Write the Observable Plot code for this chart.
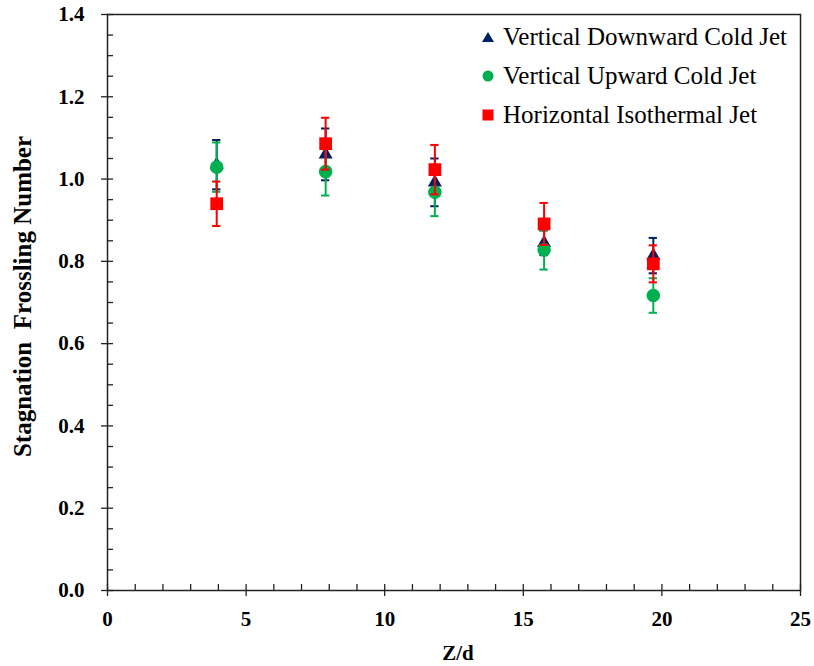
<!DOCTYPE html>
<html>
<head>
<meta charset="utf-8">
<script src="https://cdn.jsdelivr.net/npm/d3@7"></script>
<script src="https://cdn.jsdelivr.net/npm/@observablehq/plot@0.6"></script>
<style>
  body { margin: 0; background: #fff; }
  #wrap { position: relative; width: 814px; height: 666px; }
  #wrap svg text { font-family: "Liberation Serif", "Times New Roman", serif !important; }
  #legend { position: absolute; left: 480px; top: 17px; font-family: "Liberation Serif", "Times New Roman", serif; font-size: 25px; color: #000; }
  #legend .row { display: flex; align-items: center; height: 39px; white-space: nowrap; }
  #legend svg { width: 16px; height: 16px; margin-right: 7px; flex: none; }
  svg text.ytitle, svg .ytitle text { white-space: pre; }
</style>
</head>
<body>
<div id="wrap"></div>
<script>
// ---- data ----
const zd = [3.94, 7.87, 11.81, 15.75, 19.69];

const seriesNames = ["Vertical Downward Cold Jet", "Vertical Upward Cold Jet", "Horizontal Isothermal Jet"];
const downwardY   = [1.035, 1.060, 0.992, 0.845, 0.814];
const downwardErr = [0.060, 0.063, 0.058, 0.030, 0.043];
const upwardY     = [1.029, 1.018, 0.968, 0.828, 0.717];
const upwardErr   = [0.060, 0.058, 0.058, 0.048, 0.042];
const horizY      = [0.940, 1.086, 1.023, 0.891, 0.794];
const horizErr    = [0.054, 0.063, 0.060, 0.051, 0.045];

const xTicks = [0, 5, 10, 15, 20, 25];
const yTicks = [0.0, 0.2, 0.4, 0.6, 0.8, 1.0, 1.2, 1.4];
const xMinorStep = 1;
const yMinorStep = 0.05;

const colors  = ["#002060", "#00B050", "#FF0000"];
const symbols = ["triangle", "circle", "square"];
const radii   = [5.2, 6.8, 7.2];

const ys = [downwardY, upwardY, horizY];
const errs = [downwardErr, upwardErr, horizErr];

const rows = [];
seriesNames.forEach((s, i) => {
  zd.forEach((x, j) => rows.push({series: s, si: i, x, y: ys[i][j], e: errs[i][j]}));
});

const capHalf = 0.15; // half cap width in Z/d units
const xMinor = d3.range(0, 25 + 1e-9, xMinorStep);
const yMinor = d3.range(0, 1.4 + 1e-9, yMinorStep).map(v => +v.toFixed(2));

const font = "Liberation Serif";
const marks = [
  Plot.frame({stroke: "#222", strokeWidth: 1.5}),
  // minor (inward) ticks
  Plot.axisX(xMinor, {tickSize: -6, tickFormat: () => "", label: null, stroke: "#222", strokeWidth: 1.3}),
  Plot.axisY(yMinor, {tickSize: -6, tickFormat: () => "", label: null, stroke: "#222", strokeWidth: 1.3}),
  // major ticks with labels
  Plot.axisX(xTicks, {tickSize: 6, tickPadding: 15, tickFormat: d3.format("d"), label: null,
    fontSize: 21, fontWeight: "bold", fontFamily: font, fill: "#000", stroke: "#222", strokeWidth: 1.3}),
  Plot.axisY(yTicks, {tickSize: 6, tickPadding: 17, tickFormat: d3.format(".1f"), label: null,
    fontSize: 21, fontWeight: "bold", fontFamily: font, fill: "#000", stroke: "#222", strokeWidth: 1.3}),
  Plot.text(["Z/d"], {frameAnchor: "bottom", textAnchor: "middle", lineAnchor: "middle", dy: 63, dx: 4,
    fontSize: 21, fontWeight: "bold", fontFamily: font, fill: "#000"}),
  Plot.text(["Stagnation  Frossling Number"], {frameAnchor: "left", textAnchor: "middle", lineAnchor: "middle",
    dx: -85, dy: -6, rotate: -90,
    fontSize: 25, fontWeight: "bold", fontFamily: font, fill: "#000", className: "ytitle"})
];

seriesNames.forEach((s, i) => {
  const d = rows.filter(r => r.si === i);
  marks.push(
    Plot.ruleX(d, {x: "x", y1: r => r.y - r.e, y2: r => r.y + r.e, stroke: colors[i], strokeWidth: 2}),
    Plot.ruleY(d, {y: r => r.y + r.e, x1: r => r.x - capHalf, x2: r => r.x + capHalf, stroke: colors[i], strokeWidth: 2}),
    Plot.ruleY(d, {y: r => r.y - r.e, x1: r => r.x - capHalf, x2: r => r.x + capHalf, stroke: colors[i], strokeWidth: 2}),
    Plot.dot(d, {x: "x", y: "y", symbol: () => symbols[i], r: radii[i], fill: colors[i], stroke: "none"})
  );
});

const chart = Plot.plot({
  width: 814,
  height: 666,
  marginLeft: 107,
  marginRight: 14,
  marginTop: 14,
  marginBottom: 76,
  style: {fontFamily: font, background: "#fff"},
  x: {domain: [0, 25], axis: null},
  y: {domain: [0, 1.4], axis: null},
  symbol: {type: "identity"},
  marks
});

const wrap = document.getElementById("wrap");
wrap.appendChild(chart);

// legend
const legend = document.createElement("div");
legend.id = "legend";
const legendShapes = [
  '<polygon points="8,3 14,13 2,13" fill="' + colors[0] + '"/>',
  '<circle cx="8" cy="8" r="5.5" fill="' + colors[1] + '"/>',
  '<rect x="2.5" y="2.5" width="11" height="11" fill="' + colors[2] + '"/>'
];
seriesNames.forEach((s, i) => {
  const row = document.createElement("div");
  row.className = "row";
  row.innerHTML = '<svg viewBox="0 0 16 16">' + legendShapes[i] + '</svg><span>' + s + '</span>';
  legend.appendChild(row);
});
wrap.appendChild(legend);
</script>
</body>
</html>
